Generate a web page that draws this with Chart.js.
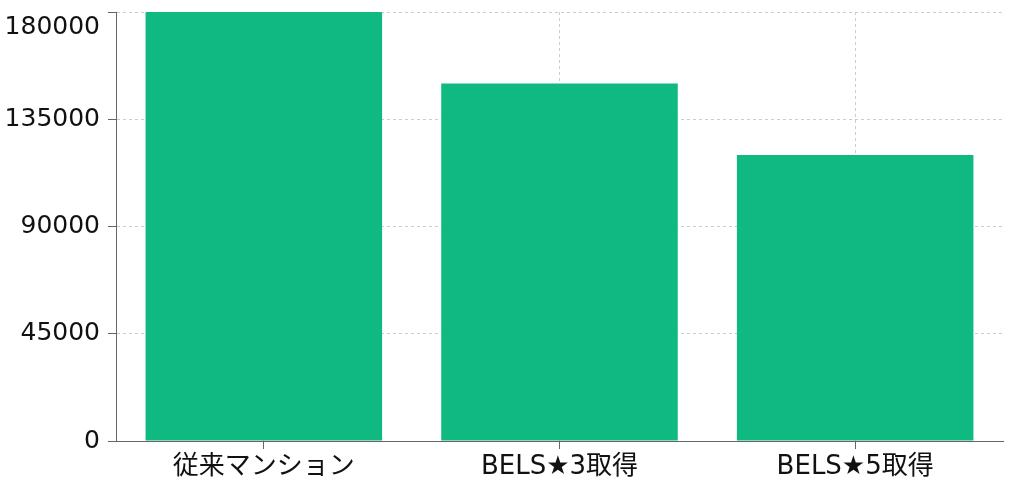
<!DOCTYPE html>
<html>
<head>
<meta charset="utf-8">
<script src="https://cdn.jsdelivr.net/npm/chart.js@4"></script>
<style>
  html, body { margin: 0; padding: 0; background: #fff; }
  #wrap { width: 1017px; height: 492px; }
</style>
</head>
<body>
<div id="wrap"><canvas id="costChart" width="1017" height="492"></canvas></div>
<script>
// Data
const categories = ['従来マンション', 'BELS★3取得', 'BELS★5取得'];
const costValues = [180000, 150000, 120000];
const yTicks = [0, 45000, 90000, 135000, 180000];

const fontFamily = '"DejaVu Sans", "Noto Sans CJK JP", sans-serif';
const gridColor = '#cccccc';
const axisColor = '#666666';

const ctx = document.getElementById('costChart').getContext('2d');
const chart = new Chart(ctx, {
    type: 'bar',
    data: {
        labels: categories,
        datasets: [{
            data: costValues,
            backgroundColor: '#10b981',
            borderWidth: 0,
            categoryPercentage: 0.8,
            barPercentage: 1.0
        }]
    },
    options: {
        responsive: false,
        animation: false,
        layout: {
            padding: { left: 0, right: 14, top: 12, bottom: 0 }
        },
        plugins: {
            legend: { display: false },
            tooltip: { enabled: false }
        },
        scales: {
            x: {
                grid: {
                    offset: false,
                    color: gridColor,
                    tickColor: axisColor,
                    tickLength: 8,
                    tickBorderDash: []
                },
                border: { color: axisColor, width: 1, dash: [3, 3] },
                ticks: {
                    color: '#111',
                    padding: 3,
                    font: { family: fontFamily, size: 26 }
                },
                afterFit: scale => { scale.height = 51; }
            },
            // right edge dashed line of the grid
            xEdge: {
                type: 'linear',
                position: 'bottom',
                min: 0,
                max: 3,
                afterBuildTicks: scale => {
                    scale.ticks = [{ value: 3 }];
                },
                ticks: { display: false },
                grid: { color: gridColor, drawTicks: false },
                border: { display: false, dash: [3, 3] },
                afterFit: scale => { scale.height = 0; }
            },
            y: {
                min: 0,
                max: 180000,
                afterBuildTicks: scale => {
                    scale.ticks = yTicks.map(v => ({ value: v }));
                },
                grid: {
                    color: gridColor,
                    tickColor: axisColor,
                    tickLength: 8,
                    tickBorderDash: []
                },
                border: { color: axisColor, width: 1, dash: [3, 3] },
                ticks: {
                    color: '#111',
                    padding: 8,
                    font: { family: fontFamily, size: 25 },
                    // top label sits just inside the canvas, like the original
                    callback: value => value === 180000 ? ['', String(value)] : String(value)
                },
                afterFit: scale => {
                    scale.width = 116;
                    scale.paddingTop = 0;
                    scale.paddingBottom = 0;
                }
            }
        }
    }
});
</script>
</body>
</html>
